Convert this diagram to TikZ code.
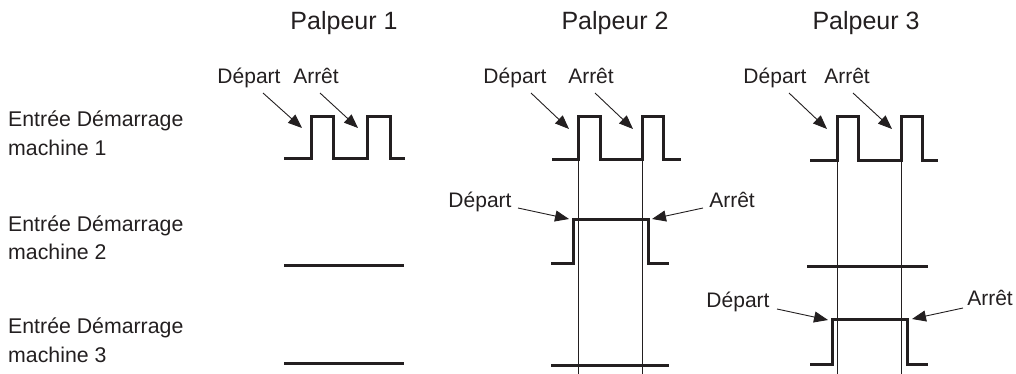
\documentclass[tikz,border=0pt]{standalone}
\usepackage{fontspec}
\setmainfont{Liberation Sans}
\usetikzlibrary{arrows.meta}
\definecolor{ink}{HTML}{231F20}
\begin{document}
\begin{tikzpicture}[x=1pt,y=-1pt,
  every node/.style={inner sep=0pt,text=ink},
  title/.style={anchor=base,font=\fontsize{25}{30}\selectfont},
  lbl/.style={anchor=base,font=\fontsize{21}{25}\selectfont},
  rowlbl/.style={anchor=base west,font=\fontsize{21.3}{25}\selectfont},
  signal/.style={draw=ink,line width=3pt,line join=miter},
  guide/.style={draw=ink,line width=0.8pt},
  pointer/.style={draw=ink,line width=0.9pt,-{Triangle[length=14pt,width=11pt]}}]
\useasboundingbox (0,0) rectangle (1016,374);

% column titles
\node[title] (t1) at (344,30) {Palpeur 1};
\node[title] (t2) at (615,30) {Palpeur 2};
\node[title] (t3) at (866,30) {Palpeur 3};

% row labels
\node[rowlbl] (r1a) at (8,127) {Entrée Démarrage};
\node[rowlbl] (r1b) at (8,156) {machine 1};
\node[rowlbl] (r2a) at (8,231) {Entrée Démarrage};
\node[rowlbl] (r2b) at (8,259) {machine 2};
\node[rowlbl] (r3a) at (8,333) {Entrée Démarrage};
\node[rowlbl] (r3b) at (8,362) {machine 3};

% guide lines through the start/stop edges
\draw[guide] (578,160) -- (578,374);
\draw[guide] (642,160) -- (642,374);
\draw[guide] (837,161) -- (837,374);
\draw[guide] (901,161) -- (901,374);

% ---- Palpeur 1 ----
\draw[signal] (284,159) -- (311,159) -- (311,117) -- (333,117) -- (333,159)
  -- (367,159) -- (367,117) -- (390,117) -- (390,159) -- (405,159);
\draw[signal] (284,265) -- (404,265);
\draw[signal] (284,363) -- (404,363);
\node[lbl] (d1) at (249,84) {Départ};
\node[lbl] (a1) at (316,84) {Arrêt};
\coordinate (d1s) at (263,93); \coordinate (d1e) at (302,128);
\coordinate (a1s) at (320,93); \coordinate (a1e) at (358,128);
\draw[pointer] (d1s) -- (d1e);
\draw[pointer] (a1s) -- (a1e);

% ---- Palpeur 2 ----
\draw[signal] (552,160) -- (578,160) -- (578,117) -- (600,117) -- (600,160)
  -- (642,160) -- (642,117) -- (663,117) -- (663,160) -- (681,160);
\draw[signal] (551,263) -- (573,263) -- (573,219) -- (648,219) -- (648,263) -- (669,263);
\draw[signal] (551,365) -- (669,365);
\node[lbl] (d2) at (515,84) {Départ};
\node[lbl] (a2) at (591,84) {Arrêt};
\coordinate (d2s) at (531,93); \coordinate (d2e) at (569,129);
\coordinate (a2s) at (595,93); \coordinate (a2e) at (633,129);
\draw[pointer] (d2s) -- (d2e);
\draw[pointer] (a2s) -- (a2e);
\node[lbl] (d2b) at (480,207) {Départ};
\node[lbl] (a2b) at (732,207) {Arrêt};
\coordinate (d2bs) at (518,208); \coordinate (d2be) at (569,219);
\coordinate (a2bs) at (703,208); \coordinate (a2be) at (652,219);
\draw[pointer] (d2bs) -- (d2be);
\draw[pointer] (a2bs) -- (a2be);

% ---- Palpeur 3 ----
\draw[signal] (810,161) -- (837,161) -- (837,117) -- (858,117) -- (858,161)
  -- (901,161) -- (901,117) -- (922,117) -- (922,161) -- (938,161);
\draw[signal] (807,266) -- (928,266);
\draw[signal] (810,364) -- (832,364) -- (832,319) -- (907,319) -- (907,364) -- (928,364);
\node[lbl] (d3) at (775,84) {Départ};
\node[lbl] (a3) at (847,84) {Arrêt};
\coordinate (d3s) at (789,93); \coordinate (d3e) at (827,129);
\coordinate (a3s) at (853,93); \coordinate (a3e) at (892,129);
\draw[pointer] (d3s) -- (d3e);
\draw[pointer] (a3s) -- (a3e);
\node[lbl] (d3b) at (738,307) {Départ};
\node[lbl] (a3b) at (990,305) {Arrêt};
\coordinate (d3bs) at (777,309); \coordinate (d3be) at (828,320);
\coordinate (a3bs) at (963,308); \coordinate (a3be) at (912,319);
\draw[pointer] (d3bs) -- (d3be);
\draw[pointer] (a3bs) -- (a3be);
\end{tikzpicture}
\end{document}
